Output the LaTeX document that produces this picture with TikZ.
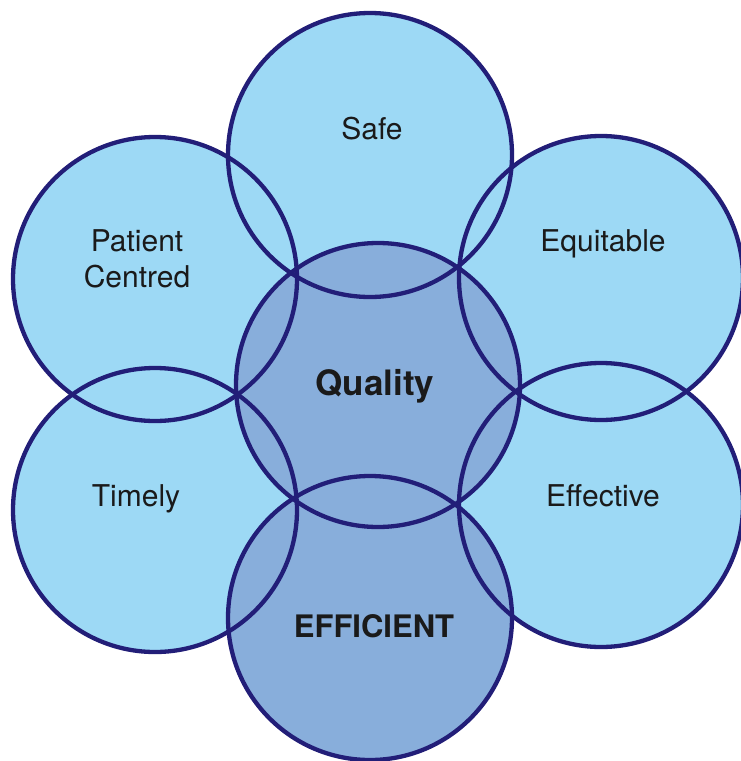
\documentclass[tikz,border=0pt]{standalone}
\usepackage{fontspec}
\setmainfont{TeX Gyre Heros}
\definecolor{lightb}{HTML}{9DD9F5}
\definecolor{midb}{HTML}{88AEDB}
\definecolor{ringc}{HTML}{221E78}
\definecolor{txt}{HTML}{1A1A1A}
\tikzset{
  petal/.style={circle, minimum size=284pt, inner sep=0pt, outer sep=0pt},
  ring/.style={draw=ringc, line width=4.3pt},
  lbl/.style={anchor=base, text=txt, font=\fontsize{30}{36}\selectfont, inner sep=0pt},
  blbl/.style={lbl, font=\fontsize{31}{36}\selectfont\bfseries}
}
\begin{document}
\begin{tikzpicture}[x=1pt, y=-1pt]
\useasboundingbox (0,0) rectangle (740,761);
% fills
\node[petal, fill=lightb] (safe) at (370,155) {};
\node[petal, fill=lightb] (patient) at (155,279) {};
\node[petal, fill=lightb] (equitable) at (601,278) {};
\node[petal, fill=lightb] (timely) at (155,510) {};
\node[petal, fill=lightb] (effective) at (601,505) {};
\node[petal, fill=midb] (quality) at (378,385) {};
\node[petal, fill=midb] (efficient) at (370,618) {};
% outlines
\foreach \n in {safe,patient,equitable,timely,effective,quality,efficient}
  \draw[ring] (\n.center) circle[radius=142];
% labels
\node[lbl] (safe-t) at (372,139) {Safe};
\node[lbl] (patient-t) at (137,251) {Patient};
\node[lbl] (centred-t) at (137,287) {Centred};
\node[lbl] (equitable-t) at (603,251) {Equitable};
\node[blbl, font=\fontsize{35}{40}\selectfont\bfseries] (quality-t) at (375,395) {Quality};
\node[lbl] (timely-t) at (136,506) {Timely};
\node[lbl] (effective-t) at (603,506) {Effective};
\node[blbl] (efficient-t) at (374,637) {EFFICIENT};
\end{tikzpicture}
\end{document}
